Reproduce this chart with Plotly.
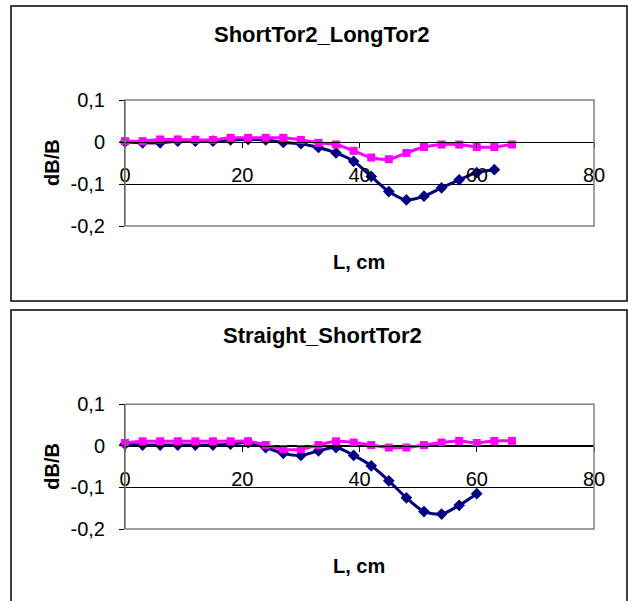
import plotly.graph_objects as go

# ---------------- data ----------------
L_navy_1 = [0, 3, 6, 9, 12, 15, 18, 21, 24, 27, 30, 33, 36, 39, 42, 45, 48, 51, 54, 57, 60, 63]
dB_navy_1 = [0.0, -0.002, -0.002, 0.002, 0.002, 0.002, 0.005, 0.006, 0.005, -0.001, -0.004,
             -0.013, -0.026, -0.046, -0.082, -0.118, -0.138, -0.129, -0.109, -0.09, -0.073, -0.066]
L_mag_1 = [0, 3, 6, 9, 12, 15, 18, 21, 24, 27, 30, 33, 36, 39, 42, 45, 48, 51, 54, 57, 60, 63, 66]
dB_mag_1 = [0.002, 0.002, 0.006, 0.006, 0.005, 0.005, 0.010, 0.010, 0.010, 0.010, 0.005, -0.002,
            -0.006, -0.021, -0.037, -0.041, -0.026, -0.012, -0.006, -0.006, -0.012, -0.012, -0.006]

L_navy_2 = [0, 3, 6, 9, 12, 15, 18, 21, 24, 27, 30, 33, 36, 39, 42, 45, 48, 51, 54, 57, 60]
dB_navy_2 = [0.004, 0.002, 0.002, 0.002, 0.002, 0.002, 0.004, 0.008, -0.004, -0.018, -0.023,
             -0.012, -0.004, -0.023, -0.048, -0.084, -0.125, -0.158, -0.164, -0.143, -0.115]
L_mag_2 = [0, 3, 6, 9, 12, 15, 18, 21, 24, 27, 30, 33, 36, 39, 42, 45, 48, 51, 54, 57, 60, 63, 66]
dB_mag_2 = [0.007, 0.011, 0.011, 0.011, 0.011, 0.011, 0.011, 0.011, 0.002, -0.008, -0.008, 0.002,
            0.011, 0.008, 0.002, -0.004, -0.004, 0.002, 0.008, 0.012, 0.007, 0.012, 0.012]

titles = ["ShortTor2_LongTor2", "Straight_ShortTor2"]
x_title = "L, cm"
y_title = "dB/B"
x_ticks = [0, 20, 40, 60, 80]
y_ticks = [0.1, 0, -0.1, -0.2]
y_ticktext = ["0,1", "0", "-0,1", "-0,2"]

# ---------------- layout geometry (pixels) ----------------
W, H = 628, 601
FONT = "Liberation Sans, Arial, sans-serif"
NAVY = "#000080"
MAG = "#FF00FF"
YMIN, YMAX = -0.2, 0.1

def px_x(p):
    return p / W

def px_y(p):
    return 1 - p / H

panels = [
    dict(top=100.0, bottom=226.0, title_y=35, xlab_y=262, frame=(11, 6, 627, 301)),
    dict(top=404.3, bottom=529.0, title_y=336, xlab_y=566, frame=(11, 310, 627, 612)),
]
series = [
    (L_navy_1, dB_navy_1, L_mag_1, dB_mag_1),
    (L_navy_2, dB_navy_2, L_mag_2, dB_mag_2),
]

fig = go.Figure()
layout = dict(
    width=W, height=H, margin=dict(l=0, r=0, t=0, b=0, pad=0, autoexpand=False),
    paper_bgcolor="white", plot_bgcolor="white", showlegend=False,
    font=dict(family=FONT, color="black", size=20),
    shapes=[], annotations=[],
)

x0p, x1p = px_x(125), px_x(594)
for i, (pan, ser) in enumerate(zip(panels, series)):
    n = "" if i == 0 else str(i + 1)
    xa, ya = "x" + n, "y" + n
    d0, d1 = px_y(pan["bottom"]), px_y(pan["top"])
    zero_pos = d0 + (0 - YMIN) / (YMAX - YMIN) * (d1 - d0)
    Ln, Bn, Lm, Bm = ser
    fig.add_trace(go.Scatter(
        x=Ln, y=Bn, xaxis=xa, yaxis=ya, mode="lines+markers", cliponaxis=False,
        line=dict(color=NAVY, width=3, shape="spline", smoothing=0.8),
        marker=dict(symbol="diamond", size=9, color=NAVY)))
    fig.add_trace(go.Scatter(
        x=Lm, y=Bm, xaxis=xa, yaxis=ya, mode="lines+markers", cliponaxis=False,
        line=dict(color=MAG, width=3, shape="spline", smoothing=0.8),
        marker=dict(symbol="square", size=8, color=MAG)))

    layout["xaxis" + n] = dict(
        domain=[x0p, x1p], range=[0, 80], anchor="free", position=zero_pos,
        tickvals=x_ticks, ticks="outside", ticklen=5, automargin=False,
        tickcolor="black", showline=True, linecolor="black", linewidth=1,
        showgrid=False, zeroline=False, ticklabelstandoff=10,
        tickfont=dict(size=20, family=FONT), fixedrange=True)
    layout["yaxis" + n] = dict(
        domain=[d0, d1], range=[YMIN, YMAX], anchor=xa, automargin=False,
        tickvals=y_ticks, ticktext=y_ticktext, ticks="outside", ticklen=5,
        tickcolor="black", showline=True, linecolor="black", linewidth=1,
        showgrid=True, gridcolor="black", gridwidth=1, zeroline=False,
        ticklabelstandoff=10, tickfont=dict(size=20, family=FONT), fixedrange=True)

    # grey plot-area border
    layout["shapes"].append(dict(
        type="rect", xref=xa + " domain", yref=ya + " domain",
        x0=0, x1=1, y0=0, y1=1, line=dict(color="#808080", width=1.5), layer="above"))
    # panel frame
    fx0, fy0, fx1, fy1 = pan["frame"]
    layout["shapes"].append(dict(
        type="rect", xref="paper", yref="paper",
        x0=px_x(fx0), x1=px_x(fx1), y0=px_y(fy1), y1=px_y(fy0),
        line=dict(color="black", width=1.5)))

    layout["annotations"] += [
        dict(text="<b>%s</b>" % titles[i], xref="paper", yref="paper",
             x=px_x(322), y=px_y(pan["title_y"]), showarrow=False,
             xanchor="center", yanchor="middle", font=dict(size=22, family=FONT)),
        dict(text="<b>%s</b>" % x_title, xref="paper", yref="paper",
             x=px_x(359), y=px_y(pan["xlab_y"]), showarrow=False,
             xanchor="center", yanchor="middle", font=dict(size=20, family=FONT)),
        dict(text="<b>%s</b>" % y_title, xref="paper", yref="paper",
             x=px_x(52), y=(d0 + d1) / 2, showarrow=False, textangle=-90,
             xanchor="center", yanchor="middle", font=dict(size=20, family=FONT)),
    ]

fig.update_layout(**layout)
fig.write_html(
    "out.html",
    config={"displayModeBar": False},
    post_script="document.body.style.margin='0';document.body.style.overflow='hidden';",
)
